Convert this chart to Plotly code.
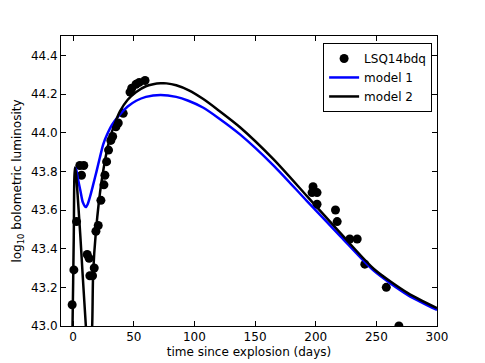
import plotly.graph_objects as go

# observed bolometric light curve of LSQ14bdq
obs_days = [-0.8, 0.6, 2.8, 5.5, 8.8, 6.9, 11.6, 13.2, 13.8, 16.0, 17.4, 18.8, 20.7,
            22.9, 25.4, 26.2, 27.6, 29.2, 31.1, 32.6, 35.3, 37.2, 41.3, 46.9, 48.3,
            51.8, 54.5, 59.3, 197.8, 197.0, 201.1, 201.1, 216.3, 217.7, 228.1,
            234.2, 240.5, 258.2, 268.6]
obs_lum = [43.11, 43.29, 43.54, 43.83, 43.83, 43.78, 43.37, 43.35, 43.26, 43.26,
           43.30, 43.49, 43.52, 43.65, 43.73, 43.78, 43.85, 43.91, 43.96, 43.98,
           44.03, 44.05, 44.10, 44.21, 44.23, 44.25, 44.26, 44.27, 43.72, 43.69,
           43.69, 43.63, 43.60, 43.54, 43.45, 43.45, 43.32, 43.20, 43.00]

# model 1 (blue)
m1_days = [1.4, 2.5, 4, 6, 8, 10.5, 12, 14, 16.5, 19.3, 22, 24.8, 28, 32, 38, 45,
           52, 60, 72, 85, 95, 107, 120, 137.8, 165.3, 192.8, 220.4, 248, 276, 300]
m1_lum = [43.82, 43.81, 43.76, 43.70, 43.64, 43.615, 43.63, 43.67, 43.73, 43.80,
          43.87, 43.94, 43.99, 44.04, 44.09, 44.135, 44.165, 44.185, 44.195,
          44.185, 44.165, 44.13, 44.075, 43.99, 43.83, 43.646, 43.464, 43.285,
          43.16, 43.083]

# model 2 (black)
m2_days = [-1.5, -0.5, 0.5, 1.4, 2.5, 4, 6, 8, 10.5, 11.5, 14.5, 15.7, 16.5, 18.8,
           23.5, 29.8, 34, 38.6, 45, 52, 60, 66, 72, 77, 85, 95, 107, 120, 137.8,
           165.3, 192.8, 220.4, 248, 276, 300]
m2_lum = [42.7, 43.0, 43.45, 43.82, 43.78, 43.65, 43.46, 43.25, 43.0, 42.9, 42.9,
          43.0, 43.27, 43.49, 43.75, 43.96, 44.04, 44.11, 44.17, 44.21, 44.24,
          44.25, 44.255, 44.255, 44.245, 44.22, 44.175, 44.115, 44.027, 43.862,
          43.672, 43.48, 43.295, 43.17, 43.092]

fig = go.Figure()
fig.add_trace(go.Scatter(x=obs_days, y=obs_lum, mode="markers", name="LSQ14bdq",
                         marker=dict(color="black", size=9)))
fig.add_trace(go.Scatter(x=m1_days, y=m1_lum, mode="lines", name="model 1",
                         line=dict(color="#0000ff", width=2.5, shape="spline",
                                   smoothing=0.7)))
fig.add_trace(go.Scatter(x=m2_days, y=m2_lum, mode="lines", name="model 2",
                         line=dict(color="black", width=2.5, shape="spline",
                                   smoothing=0.7)))

axis_style = dict(showline=True, linecolor="black", linewidth=1, mirror="allticks",
                  ticks="inside", ticklen=5, tickcolor="black", showgrid=False,
                  zeroline=False, automargin=False,
                  tickfont=dict(size=12, color="black"))

fig.update_xaxes(range=[-10, 300], dtick=50, tick0=0,
                 title=dict(text="time since explosion (days)", standoff=4,
                            font=dict(size=12, color="black")),
                 **axis_style)
fig.update_yaxes(range=[43.0, 44.5], dtick=0.2, tick0=43.0, tickformat=".1f",
                 title=dict(text="log<sub>10</sub> bolometric luminosity", standoff=6,
                            font=dict(size=12, color="black")),
                 **axis_style)

# page body has an 8px margin, so the margins are shifted to compensate
fig.update_layout(
    width=485, height=363,
    margin=dict(l=53, r=56, t=28, b=45),
    paper_bgcolor="white", plot_bgcolor="white",
    font=dict(family="DejaVu Sans", size=12, color="black"),
    legend=dict(x=0.987, y=0.976, xanchor="right", yanchor="top",
                bordercolor="black", borderwidth=1, bgcolor="white",
                font=dict(size=12), tracegroupgap=0, itemwidth=30),
)

fig.write_html("out.html")
